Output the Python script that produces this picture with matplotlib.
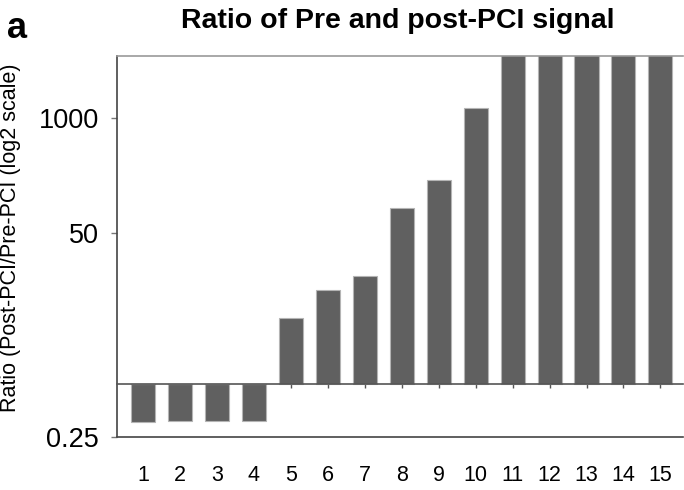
import matplotlib
matplotlib.use("Agg")
import matplotlib.pyplot as plt

# Per-sample ratio of post-PCI to pre-PCI signal
samples = list(range(1, 16))
ratios = [0.37, 0.38, 0.38, 0.38, 5.5, 11.6, 16.3, 97, 200, 1300,
          10000, 10000, 10000, 10000, 10000]
ytick_values = [0.25, 50, 1000]
ytick_labels = ["0.25", "50", "1000"]

plt.rcParams["font.family"] = ["Liberation Sans", "DejaVu Sans"]

fig = plt.figure(figsize=(6.84, 4.9), dpi=100)
ax = fig.add_axes([0.171, 0.108, 0.827, 0.777])

baseline = 1.0
heights = [r - baseline for r in ratios]
ax.bar(samples, heights, bottom=baseline, width=0.65, color="#606060",
       edgecolor="#b4b4b4", linewidth=0.8, zorder=2)

ax.set_yscale("log", base=2)
ax.set_ylim(0.25, 5000)
ax.set_xlim(0.3, 15.6)
ax.set_yticks(ytick_values)
ax.set_yticklabels(ytick_labels)
ax.yaxis.set_minor_locator(matplotlib.ticker.NullLocator())
ax.tick_params(axis="y", direction="out", length=4, width=1, color="#777777",
               labelsize=19.5, pad=9)

# x axis line at ratio = 1 with small tick marks
ax.spines["bottom"].set_position(("data", baseline))
ax.spines["bottom"].set_color("#555555")
ax.spines["bottom"].set_linewidth(1.2)
ax.spines["bottom"].set_zorder(3)
ax.set_xticks(samples)
ax.tick_params(axis="x", direction="out", length=3, width=1, color="#555555",
               labelbottom=False)

# lower frame line carrying the sample labels
sec = ax.secondary_xaxis("bottom")
sec.set_xticks(samples)
sec.set_xticklabels([str(s) for s in samples])
sec.tick_params(length=0, labelsize=15.5, pad=20)
sec.spines["bottom"].set_color("#444444")
sec.spines["bottom"].set_linewidth(1.2)

ax.spines["right"].set_visible(False)
ax.spines["top"].set_color("#999999")
ax.spines["top"].set_linewidth(1.2)
ax.spines["left"].set_color("#444444")
ax.spines["left"].set_linewidth(1.2)

fig.text(11 / 684, 1 - 238 / 490, "Ratio (Post-PCI/Pre-PCI (log2 scale)",
         rotation=90, ha="center", va="center", fontsize=15.5)
fig.text(398 / 684, 1 - 21 / 490, "Ratio of Pre and post-PCI signal",
         ha="center", va="center", fontsize=20.5, fontweight="bold")
fig.text(7 / 684, 1 - 29 / 490, "a", ha="left", va="center", fontsize=26,
         fontweight="bold")

fig.savefig("out.png", dpi=100)
